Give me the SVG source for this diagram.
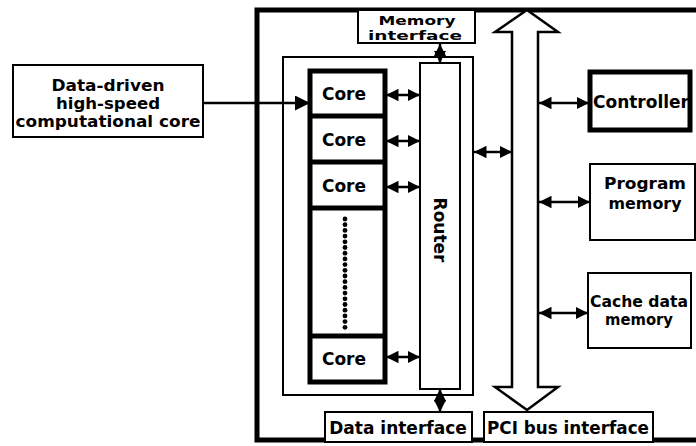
<svg xmlns="http://www.w3.org/2000/svg" width="696" height="446" viewBox="0 0 696 446">
<style>
text{font-family:"DejaVu Sans","Liberation Sans",sans-serif;font-weight:bold;font-size:17px;fill:#000;text-anchor:middle}
.s15{font-size:15px}
.s16{font-size:16px}
.s12{font-size:12.5px}
.thin{fill:#fff;stroke:#000;stroke-width:2}
.thick{fill:#fff;stroke:#000;stroke-width:5}
.ln{fill:none;stroke:#000;stroke-width:2.5}
.dbl{marker-start:url(#ah);marker-end:url(#ah)}
</style>
<defs>
<marker id="ah" viewBox="0 0 10 10" refX="10" refY="5" markerWidth="5" markerHeight="5" orient="auto-start-reverse" markerUnits="strokeWidth"><path d="M0,0 L10,5 L0,10 z" fill="#000"/></marker>
<marker id="ah2" viewBox="0 0 10 10" refX="10" refY="5" markerWidth="6" markerHeight="6" orient="auto" markerUnits="strokeWidth"><path d="M0,0 L10,5 L0,10 z" fill="#000"/></marker>
</defs>
<rect width="696" height="446" fill="#fff"/>
<g id="frame"><path d="M702 10 H257 V440 H702" fill="none" stroke="#000" stroke-width="5"/></g>
<g id="input"><rect class="thin" x="13" y="65" width="190" height="72"/><text class="s15" x="108" y="91" textLength="113" lengthAdjust="spacingAndGlyphs">Data-driven</text><text class="s15" x="108" y="109" textLength="104" lengthAdjust="spacingAndGlyphs">high-speed</text><text class="s15" x="108" y="127" textLength="185" lengthAdjust="spacingAndGlyphs">computational core</text></g>
<g id="inner"><rect class="thin" x="283" y="57" width="190" height="338"/></g>
<g id="mem-if"><rect class="thin" x="358" y="10" width="117" height="33"/><text class="s12" x="417" y="25" textLength="77" lengthAdjust="spacingAndGlyphs">Memory</text><text class="s12" x="415" y="40" textLength="94" lengthAdjust="spacingAndGlyphs">interface</text></g>
<g id="cores"><rect class="thick" x="310" y="71" width="75" height="311"/>
<path d="M310 116 H385 M310 162 H385 M310 208 H385 M310 336 H385" stroke="#000" stroke-width="5"/>
<g id="core1"><text x="344" y="100">Core</text></g>
<g id="core2"><text x="344" y="146">Core</text></g>
<g id="core3"><text x="344" y="192">Core</text></g>
<g id="core4"><text x="344" y="365">Core</text></g>
<g id="dots" fill="#000"><circle cx="345" cy="219" r="2.4"/><circle cx="345" cy="224.7" r="2.4"/><circle cx="345" cy="230.4" r="2.4"/><circle cx="345" cy="236.1" r="2.4"/><circle cx="345" cy="241.8" r="2.4"/><circle cx="345" cy="247.5" r="2.4"/><circle cx="345" cy="253.2" r="2.4"/><circle cx="345" cy="258.9" r="2.4"/><circle cx="345" cy="264.6" r="2.4"/><circle cx="345" cy="270.3" r="2.4"/><circle cx="345" cy="276" r="2.4"/><circle cx="345" cy="281.7" r="2.4"/><circle cx="345" cy="287.4" r="2.4"/><circle cx="345" cy="293.1" r="2.4"/><circle cx="345" cy="298.8" r="2.4"/><circle cx="345" cy="304.5" r="2.4"/><circle cx="345" cy="310.2" r="2.4"/><circle cx="345" cy="315.9" r="2.4"/><circle cx="345" cy="321.6" r="2.4"/><circle cx="345" cy="327.3" r="2.4"/></g>
</g>
<g id="router"><rect class="thin" x="420" y="63" width="40" height="326"/><text transform="translate(434 230) rotate(90)" x="0" y="0">Router</text></g>
<g id="bus"><polygon points="527,10 558,32 538,32 538,387 558,387 527,410 495,387 512,387 512,32 495,32" fill="#fff" stroke="#000" stroke-width="2.5"/></g>
<g id="controller"><rect x="590" y="72" width="100" height="58" fill="#fff" stroke="#000" stroke-width="5"/><text x="641" y="108">Controller</text></g>
<g id="prog-mem"><rect class="thin" x="590" y="164" width="105" height="76"/><text class="s16" x="645" y="189" textLength="82" lengthAdjust="spacingAndGlyphs">Program</text><text class="s16" x="645" y="209" textLength="73" lengthAdjust="spacingAndGlyphs">memory</text></g>
<g id="cache-mem"><rect class="thin" x="588" y="273" width="103" height="75"/><text class="s15" x="639" y="307" textLength="98" lengthAdjust="spacingAndGlyphs">Cache data</text><text class="s15" x="639" y="325" textLength="68" lengthAdjust="spacingAndGlyphs">memory</text></g>
<g id="data-if"><rect class="thin" x="325" y="412" width="147" height="30"/><text x="398" y="434">Data interface</text></g>
<g id="pci-if"><rect class="thin" x="484" y="412" width="169" height="30"/><text x="568" y="434" textLength="162" lengthAdjust="spacingAndGlyphs">PCI bus interface</text></g>
<g id="connectors">
<line class="ln" x1="203" y1="103" x2="310" y2="103" marker-end="url(#ah2)"/>
<line class="ln dbl" x1="386" y1="95" x2="420" y2="95"/>
<line class="ln dbl" x1="386" y1="141" x2="420" y2="141"/>
<line class="ln dbl" x1="386" y1="187" x2="420" y2="187"/>
<line class="ln dbl" x1="386" y1="357" x2="420" y2="357"/>
<line class="ln dbl" x1="474" y1="152" x2="512" y2="152"/>
<line class="ln dbl" x1="440" y1="44" x2="440" y2="63"/>
<line class="ln dbl" x1="440" y1="389" x2="440" y2="412"/>
<line class="ln dbl" x1="539" y1="103" x2="589" y2="103"/>
<line class="ln dbl" x1="539" y1="202" x2="590" y2="202"/>
<line class="ln dbl" x1="539" y1="313" x2="588" y2="313"/>
</g>
</svg>
